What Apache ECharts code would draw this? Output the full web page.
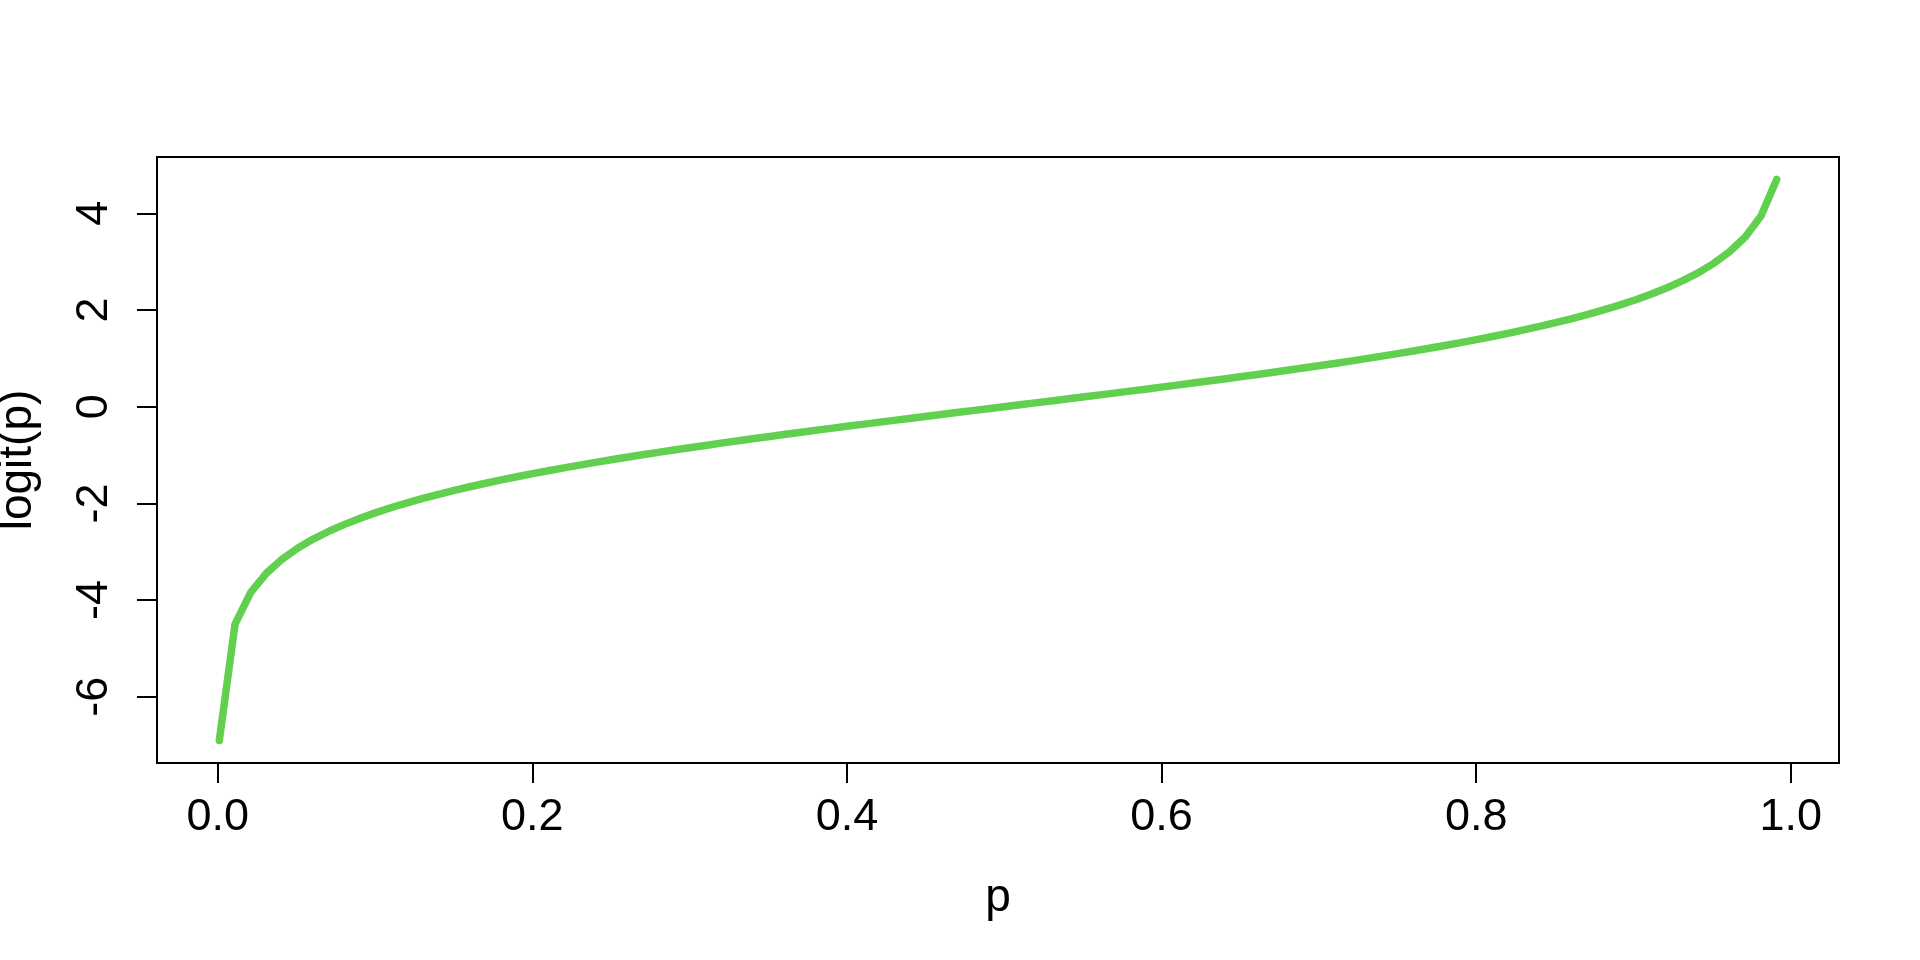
<!DOCTYPE html>
<html>
<head>
<meta charset="utf-8">
<script src="https://cdn.jsdelivr.net/npm/echarts@6/dist/echarts.min.js"></script>
<style>
html,body{margin:0;padding:0;background:#fff;}
#chart{width:1920px;height:960px;}
</style>
</head>
<body>
<div id="chart"></div>
<script>
const pValues = [
0.001,0.011,0.021,0.031,0.041,0.051,0.061,0.071,0.081,0.091,
0.101,0.111,0.121,0.131,0.141,0.151,0.161,0.171,0.181,0.191,
0.201,0.211,0.221,0.231,0.241,0.251,0.261,0.271,0.281,0.291,
0.301,0.311,0.321,0.331,0.341,0.351,0.361,0.371,0.381,0.391,
0.401,0.411,0.421,0.431,0.441,0.451,0.461,0.471,0.481,0.491,
0.501,0.511,0.521,0.531,0.541,0.551,0.561,0.571,0.581,0.591,
0.601,0.611,0.621,0.631,0.641,0.651,0.661,0.671,0.681,0.691,
0.701,0.711,0.721,0.731,0.741,0.751,0.761,0.771,0.781,0.791,
0.801,0.811,0.821,0.831,0.841,0.851,0.861,0.871,0.881,0.891,
0.901,0.911,0.921,0.931,0.941,0.951,0.961,0.971,0.981,0.991
];
const logitValues = [
-6.907,-4.499,-3.842,-3.442,-3.152,-2.924,-2.734,-2.571,-2.429,-2.302,
-2.186,-2.081,-1.983,-1.892,-1.807,-1.727,-1.651,-1.579,-1.510,-1.444,
-1.380,-1.319,-1.260,-1.203,-1.147,-1.093,-1.041,-0.990,-0.940,-0.891,
-0.843,-0.796,-0.749,-0.704,-0.659,-0.615,-0.571,-0.528,-0.485,-0.443,
-0.401,-0.360,-0.319,-0.278,-0.237,-0.197,-0.156,-0.116,-0.076,-0.036,
0.004,0.044,0.084,0.124,0.164,0.205,0.245,0.286,0.327,0.368,
0.410,0.452,0.494,0.537,0.580,0.624,0.668,0.713,0.758,0.805,
0.852,0.900,0.949,1.000,1.051,1.104,1.158,1.214,1.272,1.331,
1.393,1.457,1.523,1.593,1.666,1.743,1.824,1.910,2.002,2.101,
2.208,2.326,2.456,2.602,2.769,2.966,3.204,3.511,3.944,4.701
];
const xTicks = [0, 0.2, 0.4, 0.6, 0.8, 1.0];
const yTicks = [-6, -4, -2, 0, 2, 4];
const xTitle = 'p';
const yTitle = 'logit(p)';

const FONT = '"Liberation Sans", Arial, sans-serif';
const chart = echarts.init(document.getElementById('chart'), null, {renderer: 'canvas'});
chart.setOption({
  animation: false,
  backgroundColor: '#ffffff',
  grid: {
    left: 157, right: 81, top: 157, bottom: 197,
    containLabel: false, outerBoundsMode: 'none',
    show: true, borderColor: '#000', borderWidth: 2, backgroundColor: 'transparent'
  },
  xAxis: {
    type: 'value',
    position: 'bottom',
    min: -0.0386, max: 1.0306,
    name: xTitle,
    nameLocation: 'middle',
    nameGap: 112,
    nameTextStyle: {fontFamily: FONT, fontSize: 46, color: '#000'},
    axisLine: {show: false, onZero: false},
    splitLine: {show: false},
    axisTick: {show: true, customValues: xTicks, length: 20, lineStyle: {color: '#000', width: 2}},
    axisLabel: {
      customValues: xTicks, fontFamily: FONT, fontSize: 45, color: '#000', margin: 32,
      formatter: v => v.toFixed(1)
    }
  },
  yAxis: {
    type: 'value',
    position: 'left',
    min: -7.371, max: 5.166,
    name: yTitle,
    nameLocation: 'middle',
    nameGap: 116,
    nameRotate: 90,
    nameTextStyle: {fontFamily: FONT, fontSize: 46, color: '#000'},
    axisLine: {show: false, onZero: false},
    splitLine: {show: false},
    axisTick: {show: true, customValues: yTicks, length: 20, lineStyle: {color: '#000', width: 2}},
    axisLabel: {
      customValues: yTicks, fontFamily: FONT, fontSize: 45, color: '#000', margin: 40,
      rotate: 90, formatter: v => String(v)
    }
  },
  series: [{
    type: 'line',
    data: pValues.map((p, i) => [p, logitValues[i]]),
    showSymbol: false,
    smooth: false,
    lineStyle: {color: '#61D04F', width: 7.5, cap: 'round', join: 'round'},
    itemStyle: {color: '#61D04F'}
  }]
});
</script>
</body>
</html>
